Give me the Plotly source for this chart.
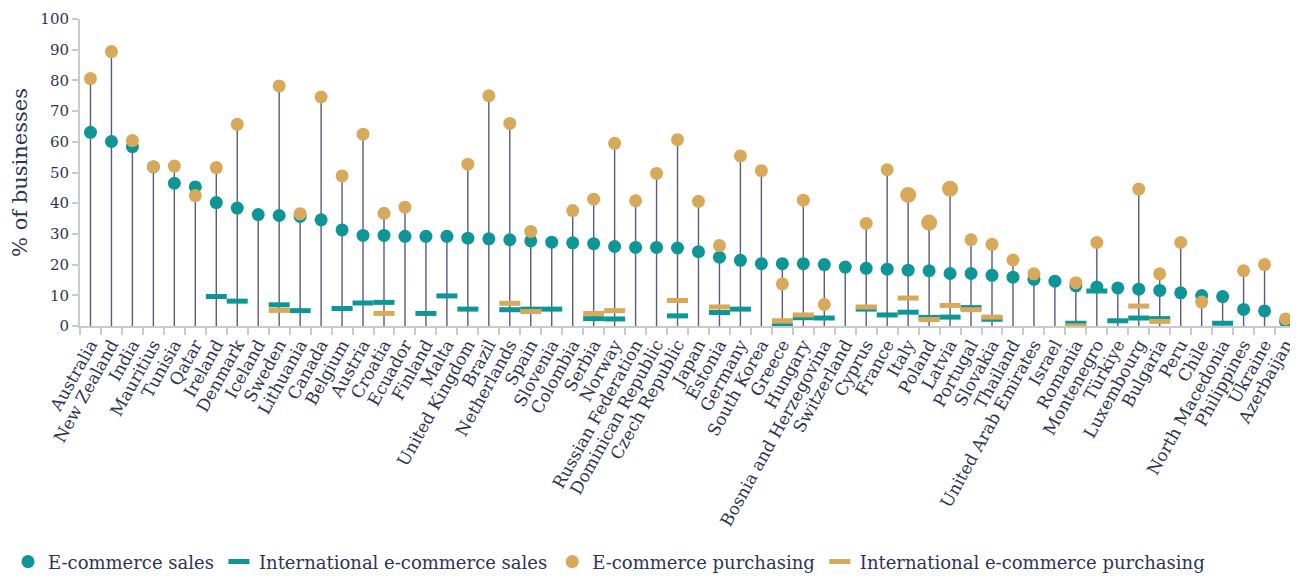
import plotly.graph_objects as go

countries = ["Australia", "New Zealand", "India", "Mauritius", "Tunisia", "Qatar", "Ireland", "Denmark",
             "Iceland", "Sweden", "Lithuania", "Canada", "Belgium", "Austria", "Croatia", "Ecuador",
             "Finland", "Malta", "United Kingdom", "Brazil", "Netherlands", "Spain", "Slovenia", "Colombia",
             "Serbia", "Norway", "Russian Federation", "Dominican Republic", "Czech Republic", "Japan",
             "Estonia", "Germany", "South Korea", "Greece", "Hungary", "Bosnia and Herzegovina",
             "Switzerland", "Cyprus", "France", "Italy", "Poland", "Latvia", "Portugal", "Slovakia",
             "Thailand", "United Arab Emirates", "Israel", "Romania", "Montenegro", "Türkiye",
             "Luxembourg", "Bulgaria", "Peru", "Chile", "North Macedonia", "Philippines", "Ukraine",
             "Azerbaijan"]

ecom_sales = [63.1, 60.1, 58.4, 51.8, 46.5, 45.3, 40.2, 38.4,
              36.3, 36.0, 35.7, 34.6, 31.3, 29.5, 29.5, 29.2,
              29.2, 29.2, 28.6, 28.4, 28.1, 27.7, 27.3, 27.1,
              26.8, 25.9, 25.6, 25.6, 25.4, 24.2,
              22.4, 21.4, 20.3, 20.3, 20.3, 20.0,
              19.2, 18.8, 18.5, 18.2, 18.0, 17.1, 17.1, 16.5,
              15.9, 15.2, 14.6, 13.1, 12.7, 12.4,
              12.0, 11.6, 10.8, 9.9, 9.6, 5.4, 4.9,
              1.5]

intl_sales = [None, None, None, None, None, None, 9.6, 8.1,
              None, 6.9, 5.0, None, 5.7, 7.5, 7.7, None,
              4.1, 9.8, 5.5, None, 5.3, 5.5, 5.5, None,
              2.4, 2.3, None, None, 3.3, None,
              4.4, 5.5, None, 0.1, 2.7, 2.6,
              None, 5.5, 3.6, 4.5, 2.8, 2.9, 6.0, 2.2,
              None, None, None, 0.9, 11.4, 1.7,
              2.6, 2.4, None, None, 0.9, None, None,
              None]

ecom_purch = [80.6, 89.4, 60.4, 51.9, 52.1, 42.5, 51.6, 65.7,
              None, 78.2, 36.6, 74.6, 48.9, 62.5, 36.7, 38.7,
              None, None, 52.7, 75.0, 66.0, 30.8, None, 37.6,
              41.3, 59.5, 40.8, 49.7, 60.7, 40.6,
              26.2, 55.4, 50.6, 13.7, 41.0, 7.0,
              None, 33.4, 50.9, 42.7, 33.7, 44.7, 28.1, 26.6,
              21.5, 17.0, None, 14.1, 27.2, None,
              44.6, 17.0, 27.2, 7.8, None, 18.0, 20.0,
              2.3]

intl_purch = [None, None, None, None, None, None, None, None,
              None, 5.1, None, None, None, None, 4.1, None,
              None, None, None, None, 7.4, 4.7, None, None,
              4.1, 5.0, None, None, 8.3, None,
              6.2, None, None, 1.7, 3.6, None,
              None, 6.2, None, 9.1, 2.1, 6.7, 5.3, 2.9,
              None, None, None, 0.0, None, None,
              6.5, 1.5, None, None, None, None, None,
              None]

yticks = list(range(0, 101, 10))

TEAL = "#0e9596"
GOLD = "#d9a95b"
STEM = "#5a5a7c"
TEXT = "#2e3456"
AXIS = "#c9c9ce"
FONT = "DejaVu Serif"

big_purch = {"Italy", "Poland", "Latvia"}

# stems from 0 to the highest value per country
stem_x, stem_y = [], []
for i, c in enumerate(countries):
    vals = [v for v in (ecom_sales[i], intl_sales[i], ecom_purch[i], intl_purch[i]) if v is not None]
    stem_x += [c, c, None]
    stem_y += [0, max(vals), None]

fig = go.Figure()
fig.add_trace(go.Scatter(x=stem_x, y=stem_y, mode="lines", line=dict(color=STEM, width=1.4),
                         showlegend=False, hoverinfo="skip"))

fig.add_trace(go.Scatter(x=countries, y=ecom_sales, mode="markers", name="E-commerce sales",
                         marker=dict(symbol="circle", size=13, color=TEAL, opacity=1, line=dict(width=0))))
fig.add_trace(go.Scatter(x=countries, y=intl_sales, mode="markers", name="International e-commerce sales",
                         marker=dict(symbol="line-ew", size=15, color=TEAL, opacity=1,
                                     line=dict(width=5, color=TEAL))))
fig.add_trace(go.Scatter(x=countries, y=ecom_purch, mode="markers", name="E-commerce purchasing",
                         marker=dict(symbol="circle",
                                     size=[16 if c in big_purch else 13 for c in countries],
                                     color=GOLD, opacity=1, line=dict(width=0))))
fig.add_trace(go.Scatter(x=countries, y=intl_purch, mode="markers", name="International e-commerce purchasing",
                         marker=dict(symbol="line-ew", size=15, color=GOLD, opacity=1,
                                     line=dict(width=5, color=GOLD))))

fig.update_layout(
    width=1290, height=571,
    margin=dict(l=72, r=2, t=11, b=253),
    plot_bgcolor="white", paper_bgcolor="white",
    font=dict(family=FONT, color=TEXT, size=15),
    showlegend=True,
    legend=dict(orientation="h", xref="container", x=-0.004, xanchor="left",
                yref="container", y=0.03, yanchor="middle",
                font=dict(family=FONT, size=18, color=TEXT), itemsizing="trace",
                traceorder="normal", itemwidth=30),
    xaxis=dict(type="category", categoryorder="array", categoryarray=countries,
               range=[-0.5, len(countries) - 0.5],
               showline=True, linecolor=AXIS, linewidth=2,
               ticks="outside", tickson="boundaries", ticklen=7, tickcolor=AXIS, tickwidth=1.5,
               tickangle=-61, tickfont=dict(family=FONT, size=17, color=TEXT),
               showgrid=False, zeroline=False, automargin=False),
    yaxis=dict(range=[0, 100], tickvals=yticks, showline=True, linecolor=AXIS, linewidth=2,
               ticks="outside", ticklen=6, tickcolor=AXIS, tickwidth=1.5,
               tickfont=dict(family=FONT, size=15, color=TEXT),
               title=dict(text="% of businesses", font=dict(family=FONT, size=21, color=TEXT), standoff=8),
               showgrid=False, zeroline=False, automargin=False),
)

fig.write_html("out.html")
